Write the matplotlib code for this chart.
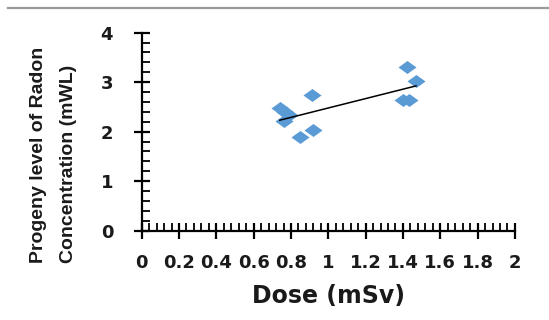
import numpy as np
import matplotlib
matplotlib.use("Agg")
import matplotlib.pyplot as plt
from matplotlib.path import Path
from matplotlib.lines import Line2D
from matplotlib.ticker import MultipleLocator

# dose (mSv) vs progeny level of radon concentration (mWL)
dose = [0.74, 0.77, 0.76, 0.79, 0.85, 0.91, 0.92, 1.42, 1.47, 1.40, 1.43]
radon = [2.47, 2.40, 2.22, 2.33, 1.90, 2.74, 2.03, 3.31, 3.02, 2.64, 2.64]
xticks = [0, 0.2, 0.4, 0.6, 0.8, 1, 1.2, 1.4, 1.6, 1.8, 2]
xticklabels = ["0", "0.2", "0.4", "0.6", "0.8", "1", "1.2", "1.4", "1.6", "1.8", "2"]
yticks = [0, 1, 2, 3, 4]

blue = "#5B9BD5"
font = ["DejaVu Sans"]

# flattened diamond marker (excel look)
diamond = Path([(-1, 0), (0, 0.72), (1, 0), (0, -0.72), (-1, 0)],
               [Path.MOVETO, Path.LINETO, Path.LINETO, Path.LINETO, Path.CLOSEPOLY])

fig = plt.figure(figsize=(5.49, 3.2), dpi=100)
ax = fig.add_axes([0.258, 0.279, 0.680, 0.619])

ax.plot(dose, radon, linestyle="none", marker=diamond, markersize=13,
        color=blue, markeredgewidth=0, zorder=3)

# linear trend line
k, b = np.polyfit(dose, radon, 1)
xs = np.array([min(dose), max(dose)])
ax.plot(xs, k * xs + b, color="black", linewidth=1.1, zorder=4)

ax.set_xlim(0, 2)
ax.set_ylim(0, 4)
ax.set_xticks(xticks)
ax.set_xticklabels(xticklabels)
ax.set_yticks(yticks)
ax.xaxis.set_minor_locator(MultipleLocator(0.04))
ax.yaxis.set_minor_locator(MultipleLocator(0.2))

for s in ["top", "right"]:
    ax.spines[s].set_visible(False)
for s in ["left", "bottom"]:
    ax.spines[s].set_linewidth(1.6)
    ax.spines[s].set_color("black")

ax.tick_params(which="major", direction="inout", length=11, width=1.6)
ax.tick_params(which="minor", direction="in", length=5.5, width=1.3)
ax.tick_params(axis="x", which="major", pad=11)
ax.tick_params(axis="y", which="major", pad=15)
for lab in ax.get_xticklabels() + ax.get_yticklabels():
    lab.set_fontfamily(font)
    lab.set_fontweight("bold")
    lab.set_fontsize(13)
    lab.set_color("#1a1a1a")

ax.set_xlabel("Dose (mSv)", fontsize=17, fontweight="bold", family=font,
              color="#1a1a1a", labelpad=9)

fig.text(0.097, 0.178, "Progeny level of Radon\nConcentration (mWL)",
         rotation=90, ha="center", va="bottom", multialignment="left",
         fontsize=14, fontweight="bold", color="#1a1a1a", linespacing=2.0,
         family=["Liberation Sans", "DejaVu Sans"])

# thin grey rule at the top of the picture
fig.add_artist(Line2D([0.014, 1.0], [0.976, 0.976], color="#9a9a9a",
                      linewidth=1.6, transform=fig.transFigure))

fig.savefig("out.png", dpi=100)
